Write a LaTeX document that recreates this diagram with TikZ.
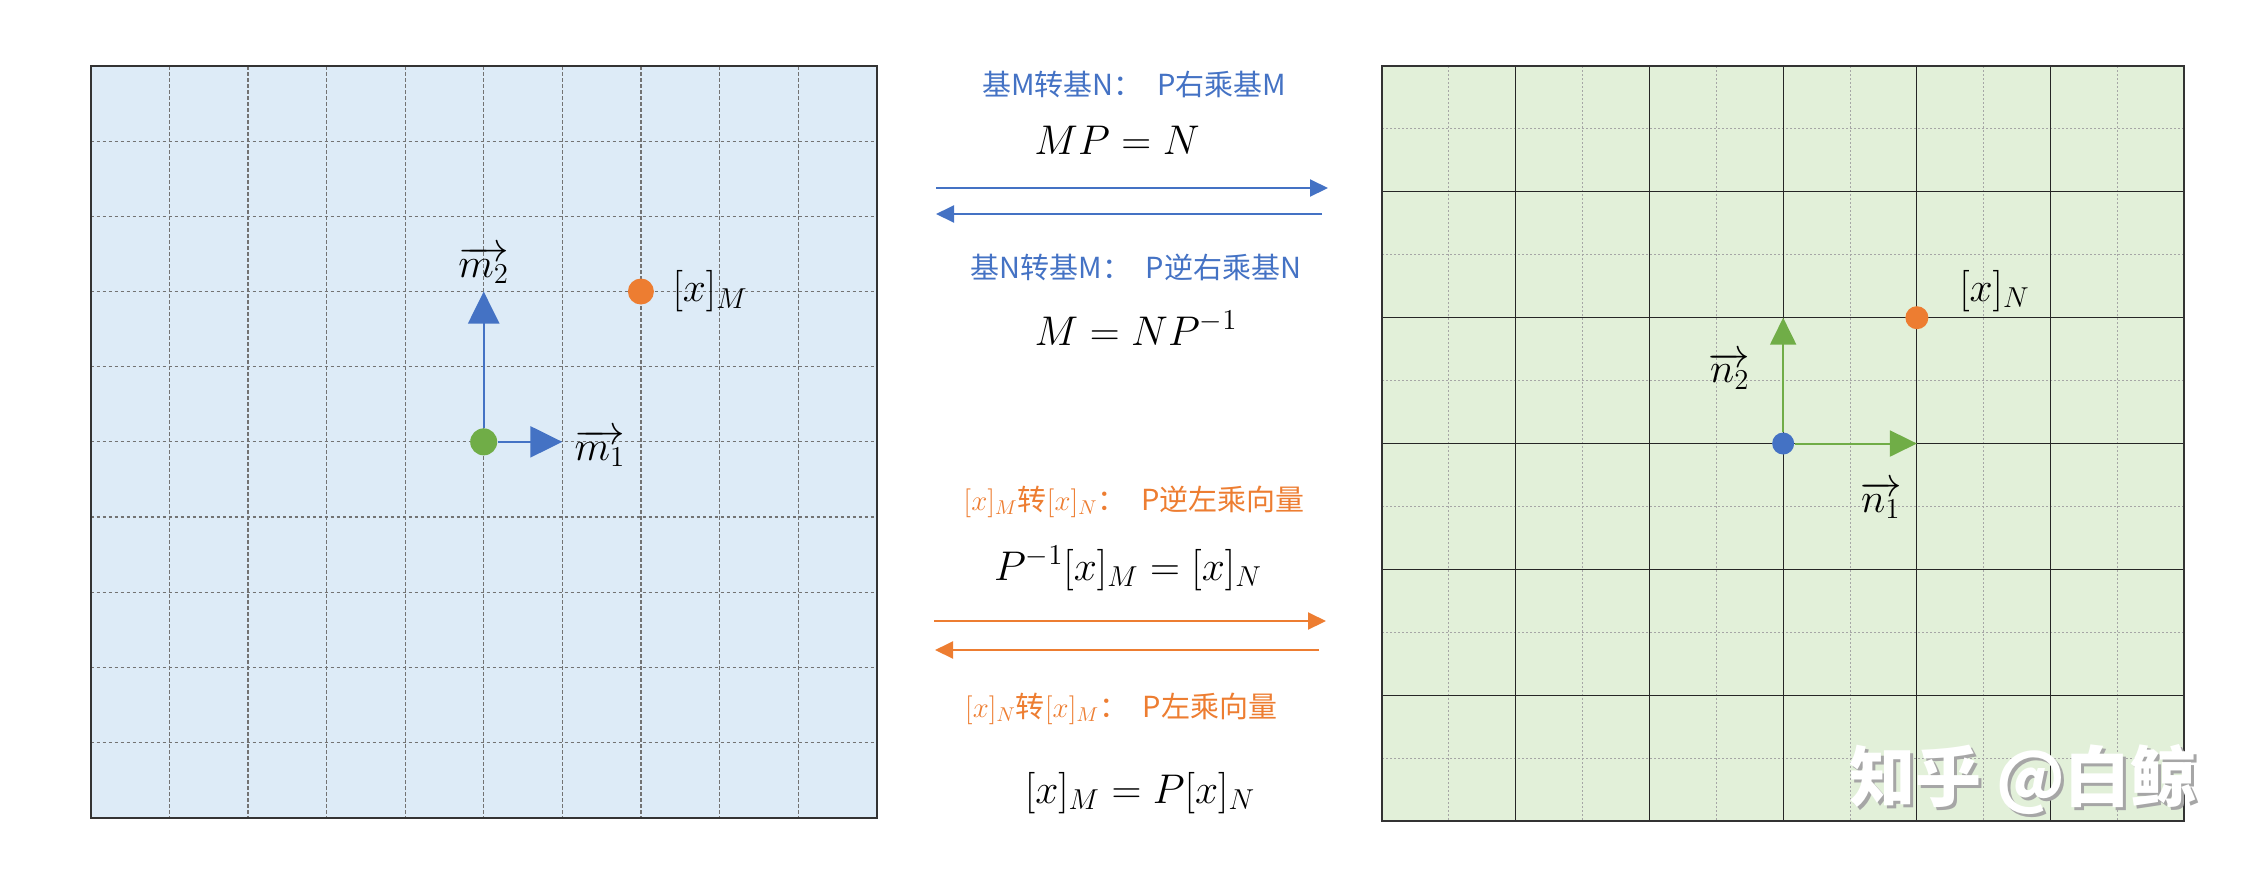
\documentclass[tikz,border=0pt]{standalone}
\usepackage{fontspec}
\newfontfamily\cjk{Noto Sans CJK SC}
\usetikzlibrary{arrows.meta}
\definecolor{vblue}{HTML}{4472C4}
\definecolor{vorange}{HTML}{ED7D31}
\definecolor{vgreen}{HTML}{70AD47}
\definecolor{fillM}{HTML}{DDEBF7}
\definecolor{fillN}{HTML}{E2F0D9}
\tikzset{
  boxline/.style={draw=black!80, line width=0.9pt},
  gridM/.style={draw=black!55, line width=0.6pt, dash pattern=on 1.8pt off 1.2pt},
  gridminor/.style={draw=black!35, line width=0.5pt, dash pattern=on 1pt off 1pt},
  gridmajor/.style={draw=black!85, line width=0.55pt},
  vdot/.style={circle, inner sep=0pt, minimum size=#1},
  vecM/.style={draw=vblue, line width=1.2pt, -{Triangle[length=16pt,width=15.5pt]}},
  vecN/.style={draw=vgreen, line width=1pt, -{Triangle[length=13.5pt,width=13pt]}},
  transarrow/.style={line width=1pt, -{Triangle[length=9pt,width=8.5pt]}},
  lab/.style={font=\fontsize{20pt}{24pt}\selectfont},
  capt/.style={font=\cjk\fontsize{14.5pt}{17pt}\selectfont},
  eqn/.style={anchor=base, font=\fontsize{21pt}{25pt}\selectfont},
  wmark/.style={font=\cjk\bfseries\fontsize{33pt}{38pt}\selectfont}
}
\begin{document}
\begin{tikzpicture}[x=0.5pt,y=-0.5pt]
      \useasboundingbox (0,0) rectangle (2260,874);
      \begin{scope}[shift={(45.35pt,-33pt)},x=39.3pt,y=-37.585pt]
        \fill[fillM] (0,0) rectangle (10,10);
        \foreach \i in {1,...,9} {
          \draw[gridM] (\i,0) -- (\i,10);
          \draw[gridM] (0,\i) -- (10,\i);
        }
        \draw[boxline] (0,0) rectangle (10,10);
        \draw
          (5,5) node[vdot=13.5pt, fill=vgreen] (oM) {}
          (6,5) coordinate (m1)
          (5,3) coordinate (m2)
          (7,3) node[vdot=13pt, fill=vorange] (xM) {}
          (6.48,5.08) node[lab] (lm1) {$\overrightarrow{m_1}$}
          (5,2.65) node[lab] (lm2) {$\overrightarrow{m_2}$}
          (7.88,3.0) node[lab] (lxM) {$[x]_M$};
        \draw[vecM] (oM) -- (m1);
        \draw[vecM] (oM) -- (m2);
      \end{scope}
      \begin{scope}[shift={(691pt,-33pt)},x=66.86pt,y=-62.92pt]
        \fill[fillN] (0,0) rectangle (6,6);
        \foreach \i in {0.5,1.5,...,5.5} {
          \draw[gridminor] (\i,0) -- (\i,6);
          \draw[gridminor] (0,\i) -- (6,\i);
        }
        \foreach \i in {1,...,5} {
          \draw[gridmajor] (\i,0) -- (\i,6);
          \draw[gridmajor] (0,\i) -- (6,\i);
        }
        \draw[boxline] (0,0) rectangle (6,6);
        \draw
          (3,3) node[vdot=11pt, fill=vblue] (oN) {}
          (4,3) coordinate (n1)
          (3,2) coordinate (n2)
          (4,2) node[vdot=11.5pt, fill=vorange] (xN) {}
          (3.73,3.45) node[lab] (ln1) {$\overrightarrow{n_1}$}
          (2.60,2.42) node[lab] (ln2) {$\overrightarrow{n_2}$}
          (4.58,1.79) node[lab] (lxN) {$[x]_N$};
        \draw[vecN] (oN) -- (n1);
        \draw[vecN] (oN) -- (n2);
      \end{scope}
      \draw
        (1134,84) node[capt, text=vblue] (tMN) {基M转基N：\enskip P右乘基M}
        (1117,154) node[eqn] (eMN) {$MP=N$}
        (1136,267) node[capt, text=vblue] (tNM) {基N转基M：\enskip P逆右乘基N}
        (1136,345) node[eqn] (eNM) {$M=NP^{-1}$}
        (1134,502) node[capt, text=vorange] (txM) {$[x]_M$转$[x]_N$：\enskip P逆左乘向量}
        (1128,580) node[eqn] (exM) {$P^{-1}[x]_M=[x]_N$}
        (1121,709) node[capt, text=vorange] (txN) {$[x]_N$转$[x]_M$：\enskip P左乘向量}
        (1140,803) node[eqn] (exN) {$[x]_M=P[x]_N$}
        (936,188) coordinate (bM0)
        (1328,188) coordinate (bM1)
        (1322,214) coordinate (bN0)
        (936,214) coordinate (bN1)
        (934,621) coordinate (oM0)
        (1326,621) coordinate (oM1)
        (1319,650) coordinate (oN0)
        (935,650) coordinate (oN1);
      \begin{scope}[transarrow]
        \draw[vblue] (bM0) to (bM1);
        \draw[vblue] (bN0) to (bN1);
        \draw[vorange] (oM0) to (oM1);
        \draw[vorange] (oN0) to (oN1);
      \end{scope}
      \node[wmark, text=black!35] (wm0) at (2026,783) {知乎 @白鲸};
      \node[wmark, text=white] (wm) at (2023,780) {知乎 @白鲸};
\end{tikzpicture}
\end{document}
